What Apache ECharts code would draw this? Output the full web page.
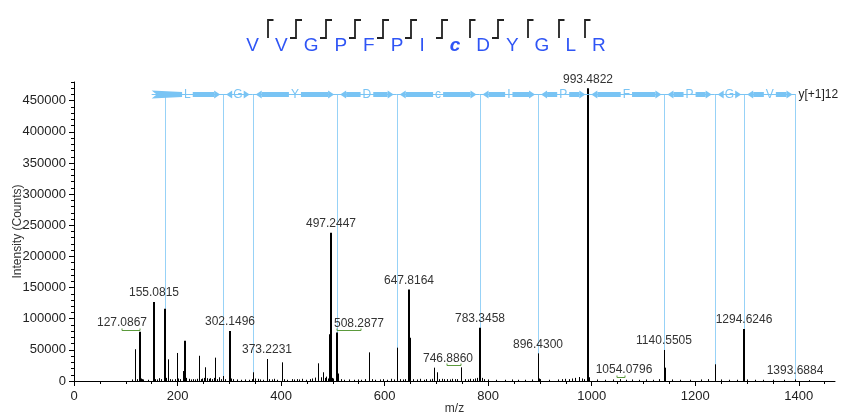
<!DOCTYPE html>
<html><head><meta charset="utf-8">
<script src="https://cdn.jsdelivr.net/npm/echarts@6/dist/echarts.min.js"></script>
<style>html,body{margin:0;padding:0;background:#fff}#c{width:844px;height:416px}</style>
</head><body><div id="c"></div>
<script>
// ---------- DATA ----------
const residues = ['V','V','G','P','F','P','I','c','D','Y','G','L','R'];
// cleavage marks between residues: 'y' = y ion only, 'by' = b and y ions
const cleavages = ['y','by','by','by','by','by','by','y','by','y','y','y'];
const yIonMz = [175.1190, 288.2030, 345.2245, 508.2877, 623.3147, 783.3458, 896.4300, 993.4822, 1140.5505, 1237.6033, 1294.6246, 1393.6884];
const ladderLetters = ['L','G','Y','D','c','I','P','F','P','G','V'];
const ladderName = 'y[+1]12';
const xTickLabels = [0, 200, 400, 600, 800, 1000, 1200, 1400];
const yTickLabels = [0, 50000, 100000, 150000, 200000, 250000, 300000, 350000, 400000, 450000];
const peakMz = [
  112.1, 118.1, 122.0, 126.0, 127.0867, 129.1, 131.0, 133.1, 143.1, 155.0815, 157.1, 160.1, 164.1, 167.1,
  175.1190, 176.1220, 178.1, 182.1, 186.1, 190.1, 195.1, 198.2, 201.1, 205.1, 209.8, 215.1, 217.1, 222.1, 226.1, 230.1,
  234.1, 238.1, 242.1, 245.1, 248.1, 250.2, 253.7, 257.1, 260.1, 263.1, 266.1, 270.1, 273.1, 276.1, 280.1, 283.1,
  288.2030, 292.1, 302.1496, 304.2, 308.1, 315.2, 322.2, 330.2, 337.2, 343.2, 345.2245, 350.2, 355.2, 360.2, 365.2, 373.2231,
  377.2, 382.2, 387.2, 392.2, 401.2, 405.2, 412.2, 420.2, 425.2, 430.2, 435.2, 440.2, 448.2, 455.2, 460.2, 465.2,
  471.5, 476.2, 480.3, 484.3, 487.7, 491.3, 495.3, 497.2447, 498.3, 500.3, 508.2877, 509.3, 515.3, 522.3,
  530.3, 540.3, 548.3, 555.3, 562.3, 570.2, 575.3, 582.3, 590.3, 597.3, 605.3, 612.3, 618.3, 623.3147, 624.3, 630.3,
  636.3, 640.3, 647.8164, 648.3, 655.3, 662.3, 668.3, 675.3, 680.3, 687.3, 692.3, 695.2, 700.4, 705.4, 710.4, 715.4,
  720.4, 725.4, 730.4, 735.4, 740.4, 746.8860, 747.4, 755.4, 760.4, 765.4, 770.4, 775.4, 779.4, 783.3458, 784.35, 787.4,
  791.4, 800.4, 815.4, 832.4, 845.4, 858.4, 870.4, 885.4, 896.4300, 897.4, 900.4, 918.4, 935.4, 942.4, 948.4, 955.4,
  962.4, 968.4, 975.4, 980.4, 985.4, 993.4822, 994.5, 1010.5, 1025.5, 1040.5, 1054.0796, 1065.5, 1078.5, 1090.5, 1105.5, 1118.5,
  1130.5, 1140.5505, 1141.55, 1155.5, 1170.5, 1190.6, 1210.6, 1225.6, 1237.6033, 1238.6, 1250.6, 1265.6, 1280.6, 1294.6246, 1300.6, 1315.6,
  1330.6, 1350.6, 1370.6, 1393.6884, 1420.7
];
const peakIntensity = [
  2500, 51000, 3000, 3500, 79000, 4000, 3000, 2500, 2000, 127000, 3000, 2500, 4500, 3000,
  116000, 22000, 5000, 34800, 3000, 2500, 3000, 45000, 4000, 3000, 16000, 64500, 5000, 3500, 2500, 3000,
  2500, 3500, 40500, 3000, 4000, 5000, 22000, 4500, 3500, 4500, 3000, 5000, 37500, 3000, 6000, 3000,
  8000, 3000, 80400, 4000, 3000, 2500, 2000, 2500, 2000, 3000, 14000, 4000, 3500, 2500, 2000, 35300,
  3000, 2500, 3500, 2000, 30000, 3000, 2000, 3000, 2500, 3000, 2500, 3500, 2000, 3000, 4000, 5500,
  28400, 6000, 14000, 5000, 7000, 4000, 75000, 238000, 5000, 4000, 78000, 12000, 3000, 2000,
  2500, 2000, 2500, 2000, 3000, 46000, 3000, 2000, 2500, 3000, 2000, 3500, 2500, 53500, 21900, 3000,
  2500, 3000, 147000, 69600, 3000, 2500, 3500, 2000, 3000, 2500, 3500, 21400, 14000, 3000, 3500, 3000,
  3000, 2500, 3500, 3000, 3000, 21900, 15000, 3000, 2500, 3500, 3000, 4000, 5000, 85600, 20000, 5000,
  3000, 2500, 2000, 2000, 2500, 2000, 2000, 2500, 44400, 4000, 3000, 2000, 2500, 3000, 3500, 3000,
  4000, 5000, 6400, 4000, 3000, 470000, 6000, 2500, 2000, 2500, 3000, 2000, 2500, 2000, 2500, 2000,
  3000, 49800, 21400, 2500, 2000, 2000, 2500, 3000, 26800, 9600, 2500, 2000, 2000, 83600, 2500, 2000,
  2000, 2000, 2000, 2500, 1500
];
const peakLabels = ['127.0867','155.0815','302.1496','373.2231','497.2447','508.2877','647.8164','746.8860',
  '783.3458','896.4300','993.4822','1054.0796','1140.5505','1294.6246','1393.6884'];

// ---------- STYLE ----------
const X_MAX = 1470, Y_MAX = 480000, LADDER_Y = 460000, LADDER_START = 150;
const LADDER_COLOR = '#79c4f4', LADDER_VLINE = '#97d2f7';
const labelDx = {'127.0867': -18, '508.2877': 22, '746.8860': -13, '1054.0796': 4};
const isoMark = {'127.0867': [-18, 0], '508.2877': [0, 24], '746.8860': [-14, 0], '1054.0796': [-3, 5]};
const FONT = '"Liberation Sans", Arial, sans-serif';

const cv = document.createElement('canvas').getContext('2d');
function measure(t, f) { cv.font = f; return cv.measureText(t).width; }

function buildTitle() {
  const els = [];
  const fN = '19px ' + FONT, fB = 'italic bold 19px ' + FONT;
  const widths = residues.map(r => measure(r, r === 'c' ? fB : fN));
  const GAP = 16, EXTRA = 9;
  const total = widths.reduce((s, w) => s + w, 0) + (residues.length - 1) * GAP + EXTRA;
  let x = 426 - total / 2;
  const base = 36, top = 20, bot = 38;
  residues.forEach((r, i) => {
    els.push({type: 'text', style: {text: r, x: x, y: base, font: r === 'c' ? fB : fN, fill: '#2f55f5', align: 'left', verticalAlign: 'alphabetic'}});
    x += widths[i];
    if (i < residues.length - 1) {
      let g0 = x;
      if (residues[i] === 'I') g0 += EXTRA;
      let pts;
      if (cleavages[i] === 'by') {
        const vx = Math.round(g0 + 8);
        pts = [[vx + 6, top], [vx, top], [vx, bot], [vx - 6, bot]];
      } else {
        const vx = Math.round(g0 + 9.5);
        pts = [[vx + 5.5, top], [vx, top], [vx, bot]];
      }
      els.push({type: 'polyline', shape: {points: pts}, style: {stroke: '#222', lineWidth: 1.8, fill: null}});
      x = g0 + GAP;
    }
  });
  return els;
}

const peakData = peakMz.map((m, i) => [m, peakIntensity[i]]);
const labelData = peakLabels.map((t, i) => {
  const m = parseFloat(t);
  let best = 0;
  peakMz.forEach((pm, j) => { if (Math.abs(pm - m) < Math.abs(peakMz[best] - m)) best = j; });
  return [peakMz[best], peakIntensity[best], i];
});
const segData = ladderLetters.map((l, i) => [yIonMz[i], yIonMz[i + 1], i]);
const vlineData = yIonMz.map(m => [m, LADDER_Y]);

const chart = echarts.init(document.getElementById('c'), null, {renderer: 'canvas'});
chart.setOption({
  animation: false,
  backgroundColor: '#fff',
  grid: {left: 74, right: 9, top: 82, bottom: 35, containLabel: false, outerBoundsMode: 'none'},
  graphic: buildTitle(),
  xAxis: [{
    type: 'value', min: 0, max: X_MAX, position: 'bottom',
    name: 'm/z', nameLocation: 'middle', nameGap: 22, nameMoveOverlap: false,
    nameTextStyle: {fontFamily: FONT, fontSize: 12, color: '#333'},
    axisLine: {lineStyle: {color: '#000', width: 1}},
    axisTick: {show: true, length: 5, lineStyle: {color: '#000'}, customValues: xTickLabels},
    axisLabel: {customValues: xTickLabels, formatter: v => String(v), fontFamily: FONT, fontSize: 13, color: '#222', margin: 9},
    splitLine: {show: false}
  }, {
    type: 'value', min: 0, max: X_MAX, position: 'bottom',
    axisLine: {show: false},
    axisTick: {show: true, length: 3, lineStyle: {color: '#000'},
      customValues: Array.from({length: 30}, (_, k) => k * 50)},
    axisLabel: {show: false}, splitLine: {show: false}
  }],
  yAxis: [{
    type: 'value', min: 0, max: Y_MAX, position: 'left',
    name: 'Intensity (Counts)', nameLocation: 'middle', nameGap: 50, nameMoveOverlap: false,
    nameTextStyle: {fontFamily: FONT, fontSize: 12, color: '#333'},
    axisLine: {show: true, lineStyle: {color: '#000', width: 1}},
    axisTick: {show: true, length: 5, lineStyle: {color: '#000'}, customValues: yTickLabels},
    axisLabel: {customValues: yTickLabels, formatter: v => String(v), fontFamily: FONT, fontSize: 13, color: '#222', margin: 8},
    splitLine: {show: false}
  }, {
    type: 'value', min: 0, max: Y_MAX, position: 'left',
    axisLine: {show: false},
    axisTick: {show: true, length: 3, lineStyle: {color: '#000'},
      customValues: Array.from({length: 49}, (_, k) => k * 10000)},
    axisLabel: {show: false}, splitLine: {show: false}
  }],
  series: [
    { // ladder vertical lines
      type: 'custom', xAxisIndex: 0, yAxisIndex: 0, silent: true, z: 1,
      data: vlineData,
      renderItem(params, api) {
        const p1 = api.coord([api.value(0), api.value(1)]);
        const p0 = api.coord([api.value(0), 0]);
        const x = Math.round(p1[0]) + 0.5;
        return {type: 'line', shape: {x1: x, y1: Math.round(p1[1]), x2: x, y2: p0[1]}, style: {stroke: LADDER_VLINE, lineWidth: 1}};
      }
    },
    { // peaks
      type: 'custom', xAxisIndex: 0, yAxisIndex: 0, silent: true, z: 3,
      data: peakData,
      renderItem(params, api) {
        const v = api.value(1);
        const p0 = api.coord([api.value(0), 0]);
        const p1 = api.coord([api.value(0), v]);
        const w = v > 60000 ? 2 : 1;
        const x = w === 2 ? Math.round(p0[0]) : Math.round(p0[0]) + 0.5;
        return {type: 'line', shape: {x1: x, y1: p0[1], x2: x, y2: p1[1]}, style: {stroke: '#000', lineWidth: w}};
      }
    },
    { // ladder segments
      type: 'custom', xAxisIndex: 0, yAxisIndex: 0, silent: true, z: 4,
      data: segData,
      renderItem(params, api) {
        const idx = api.value(2);
        const a = api.coord([idx === 0 ? LADDER_START : api.value(0), LADDER_Y]);
        const b = api.coord([api.value(1), LADDER_Y]);
        const y = Math.round(a[1]) + 0.5;
        const letter = ladderLetters[idx];
        const f = '12px ' + FONT;
        const lw = measure(letter, f);
        const mid = (a[0] + b[0]) / 2;
        const tL = a[0] + (idx === 0 ? 0 : 3), tR = b[0] - 3;
        const eL = mid - lw / 2 - 2, eR = mid + lw / 2 + 2;
        const H = 2.5, AH = 4, AL = 6;
        const ch = [];
        ch.push({type: 'line', shape: {x1: a[0], y1: y, x2: b[0], y2: y}, style: {stroke: LADDER_COLOR, lineWidth: 1}});
        if (idx === 0) {
          ch.push({type: 'polygon', shape: {points: [[tL, y - AH], [eL, y - H], [eL, y + H], [tL, y + AH], [tL + 5, y]]}, style: {fill: LADDER_COLOR}});
        } else {
          ch.push({type: 'polygon', shape: {points: [[tL, y], [tL + AL, y - AH], [tL + AL, y + AH]]}, style: {fill: LADDER_COLOR}});
          if (eL > tL + AL) ch.push({type: 'rect', shape: {x: tL + AL, y: y - H, width: eL - tL - AL, height: 2 * H}, style: {fill: LADDER_COLOR}});
        }
        ch.push({type: 'polygon', shape: {points: [[tR, y], [tR - AL, y - AH], [tR - AL, y + AH]]}, style: {fill: LADDER_COLOR}});
        if (tR - AL > eR) ch.push({type: 'rect', shape: {x: eR, y: y - H, width: tR - AL - eR, height: 2 * H}, style: {fill: LADDER_COLOR}});
        ch.push({type: 'text', style: {text: letter, x: mid, y: y, font: f, fill: LADDER_COLOR, align: 'center', verticalAlign: 'middle'}});
        if (idx === ladderLetters.length - 1) {
          ch.push({type: 'text', style: {text: ladderName, x: b[0] + 3, y: y, font: '12px ' + FONT, fill: '#222', align: 'left', verticalAlign: 'middle'}});
        }
        return {type: 'group', children: ch};
      }
    },
    { // peak labels
      type: 'custom', xAxisIndex: 0, yAxisIndex: 0, silent: true, z: 5,
      data: labelData,
      renderItem(params, api) {
        const t = peakLabels[api.value(2)];
        const p = api.coord([api.value(0), api.value(1)]);
        const px = Math.round(p[0]);
        const ch = [{type: 'text', style: {text: t, x: px + (labelDx[t] || 0), y: p[1] - 9, font: '12px ' + FONT, fill: '#333', align: 'center', verticalAlign: 'middle'}}];
        if (isoMark[t]) {
          const m = isoMark[t], yy = Math.round(p[1]) - 1.5;
          ch.push({type: 'polyline', shape: {points: [[px + m[0], yy - 2], [px + m[0], yy], [px + m[1], yy], [px + m[1], yy - 2]]}, style: {stroke: '#5b9a3c', lineWidth: 1, fill: null}});
        }
        return {type: 'group', children: ch};
      }
    }
  ]
});
</script>
</body></html>
